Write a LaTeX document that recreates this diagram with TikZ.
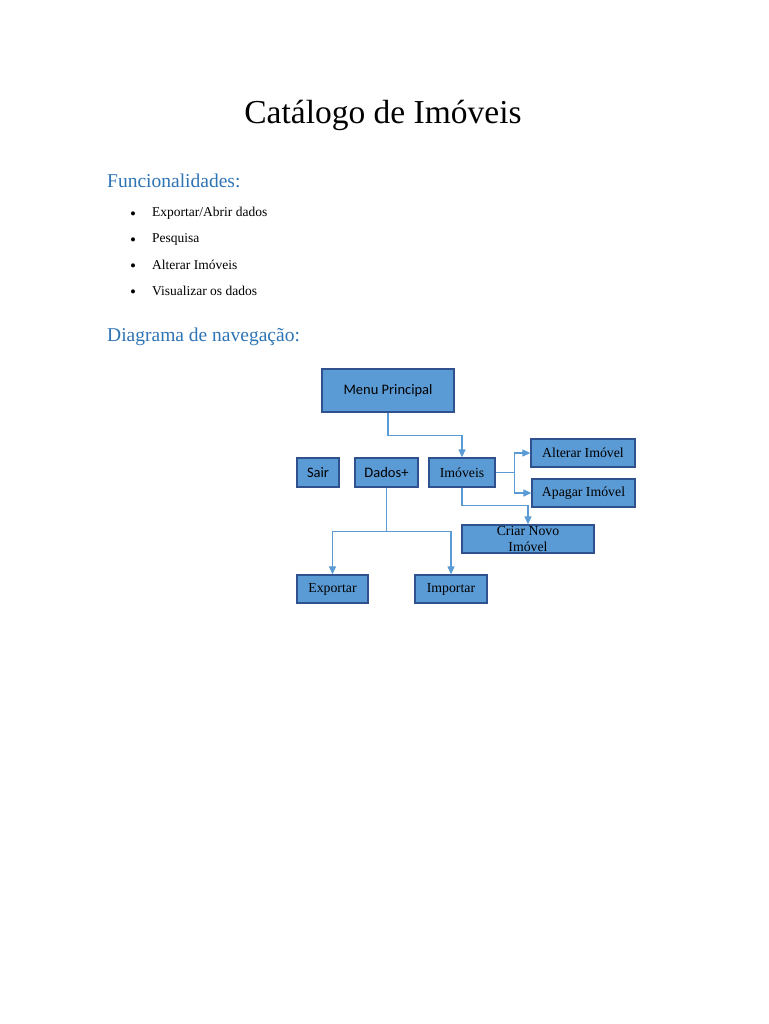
\documentclass[tikz,border=0pt]{standalone}
\usepackage{fontspec}
\setmainfont{Liberation Serif}
\newfontfamily\calibri{Carlito}
\usetikzlibrary{arrows.meta}
\definecolor{boxblue}{HTML}{5B9BD5}
\definecolor{boxedge}{HTML}{2F528F}
\definecolor{headblue}{HTML}{2E74B5}
\begin{document}
\begin{tikzpicture}[x=1pt,y=-1pt,
	box/.style={draw=boxedge,fill=boxblue,line width=1.3pt,inner sep=0pt,font=\fontsize{13.8}{15}\selectfont},
	sans/.style={font=\calibri\fontsize{14.5}{16}\selectfont},
	link/.style={draw=boxblue,line width=1.2pt,-{Triangle[length=8pt,width=7pt]}},
	head/.style={anchor=west,inner sep=0pt,text=headblue,font=\fontsize{19.5}{22}\selectfont}]
		\useasboundingbox[fill=white] (0,0) rectangle (768,1024);
		% title and text
		\node (title) at (383,115) {\fontsize{33.5}{38}\selectfont Catálogo de Imóveis};
		\node[head] (func) at (107,181) {Funcionalidades:};
		\foreach \txt [count=\i] in {Exportar/Abrir dados,Pesquisa,Alterar Imóveis,Visualizar os dados}{
			\node[anchor=base,inner sep=0pt,font=\fontsize{17}{17}\selectfont] (dot\i) at (133,193+26*\i) {\textbullet};
			\node[anchor=base west,inner sep=0pt,font=\fontsize{13.5}{15}\selectfont] (item\i) at (152,191+26*\i) {\txt};
		}
		\node[head] (diag) at (107,337) {Diagrama de navegação:};
		% navigation diagram
		\node[box,sans,minimum width=132pt,minimum height=43pt] (menu) at (388,390.5) {Menu Principal};
		\node[box,sans,minimum width=42pt,minimum height=29pt] (sair) at (318,472.5) {Sair};
		\node[box,sans,minimum width=63pt,minimum height=29pt] (dados) at (386.5,472.5) {Dados+};
		\node[box,minimum width=66pt,minimum height=29pt] (imoveis) at (462,472.5) {Imóveis};
		\node[box,minimum width=104pt,minimum height=28pt] (alterar) at (583,453) {Alterar Imóvel};
		\node[box,minimum width=103pt,minimum height=28pt] (apagar) at (583.5,493) {Apagar Imóvel};
		\node[box,minimum width=132pt,minimum height=28pt,align=center,font=\fontsize{13.8}{16}\selectfont] (criar) at (528,539) {Criar Novo\\Imóvel};
		\node[box,minimum width=71pt,minimum height=28pt] (exportar) at (332.5,589) {Exportar};
		\node[box,minimum width=72pt,minimum height=28pt] (importar) at (451,589) {Importar};
		\draw[link] (menu.south) -- ++(0,23) -| (imoveis.north);
		\draw[link] (imoveis.east) -- ++(19,0) |- (alterar.west);
		\draw[link] (imoveis.east) -- ++(19,0) |- (apagar.west);
		\draw[link] (imoveis.south) -- ++(0,18) -| (criar.north);
		\draw[link] (dados.south) -- ++(0,44) -| (exportar.north);
		\draw[link] (dados.south) -- ++(0,44) -| (importar.north);
	\end{tikzpicture}
\end{document}
